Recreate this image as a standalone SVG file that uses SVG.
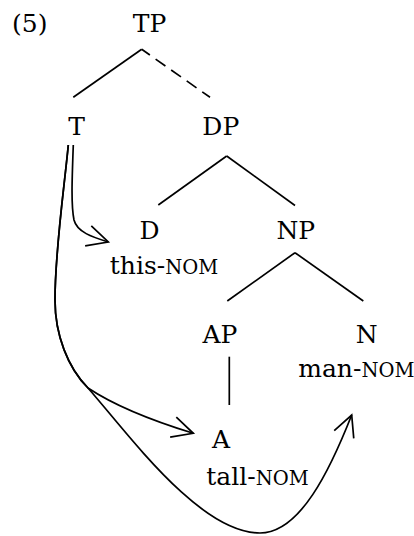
<svg xmlns="http://www.w3.org/2000/svg" width="414" height="536" viewBox="0 0 414 536">
  <style>
    text { font-family: "DejaVu Serif", "Liberation Serif", serif; font-size: 25px; fill: #000; }
    .lbl { text-anchor: middle; }
    .sc { font-size: 19.5px; }
    .edge { stroke: #000; stroke-width: 1.7; fill: none; stroke-linecap: butt; }
    .dash { stroke-dasharray: 12 7; stroke-dashoffset: 2; }
    .move { stroke: #000; stroke-width: 1.7; fill: none; }
  </style>
  <defs>
    <marker id="vee" markerUnits="userSpaceOnUse" markerWidth="30" markerHeight="30" refX="0" refY="0" viewBox="-25 -15 30 30" orient="auto">
      <path d="M-21,-10.5 L0,0 L-21,10.5" fill="none" stroke="#000" stroke-width="1.7" stroke-linejoin="miter"/>
    </marker>
  </defs>
  <rect width="414" height="536" fill="#fff"/>
  <text id="example-number" x="12" y="32">(5)</text>
  <g id="node-TP"><text class="lbl" x="149.5" y="32">TP</text></g>
  <g id="node-T"><text class="lbl" x="76.7" y="135">T</text></g>
  <g id="node-DP"><text class="lbl" x="220.8" y="135">DP</text></g>
  <g id="node-D">
    <text class="lbl" x="149.5" y="239">D</text>
    <text class="lbl" x="164" y="274">this-<tspan class="sc">NOM</tspan></text>
  </g>
  <g id="node-NP"><text class="lbl" x="295.8" y="239">NP</text></g>
  <g id="node-AP"><text class="lbl" x="220" y="343">AP</text></g>
  <g id="node-N">
    <text class="lbl" x="366.7" y="343">N</text>
    <text class="lbl" x="356.3" y="376.7">man-<tspan class="sc">NOM</tspan></text>
  </g>
  <g id="node-A">
    <text class="lbl" x="221" y="448">A</text>
    <text class="lbl" x="257.5" y="485">tall-<tspan class="sc">NOM</tspan></text>
  </g>
  <g id="connectors">
    <line class="edge" x1="141.7" y1="49.3" x2="73.3" y2="97.3"/>
    <line class="edge dash" x1="141.7" y1="49.3" x2="210" y2="97.3"/>
    <line class="edge" x1="226.7" y1="156" x2="158.3" y2="205"/>
    <line class="edge" x1="226.7" y1="156" x2="295" y2="205.5"/>
    <line class="edge" x1="295" y1="252.7" x2="227.3" y2="301"/>
    <line class="edge" x1="295" y1="252.7" x2="363.3" y2="301"/>
    <line class="edge" x1="229.3" y1="356.7" x2="229.3" y2="405"/>
    <path class="move" marker-end="url(#vee)" d="M73.3,145 C72,180 71,205 74,220 C77,232 92,237 108.3,242"/>
    <path class="move" marker-end="url(#vee)" d="M68.3,145 C64,190 55,250 55,300 C55,335 68,368 88,388 C112,404 150,420 193.3,433.3"/>
    <path class="move" marker-end="url(#vee)" d="M68.3,145 C64,190 55,250 55,300 C55,335 68,368 88,388 C130,436 200,533 260,533 C300,533 330,470 351.7,415"/>
  </g>
</svg>
